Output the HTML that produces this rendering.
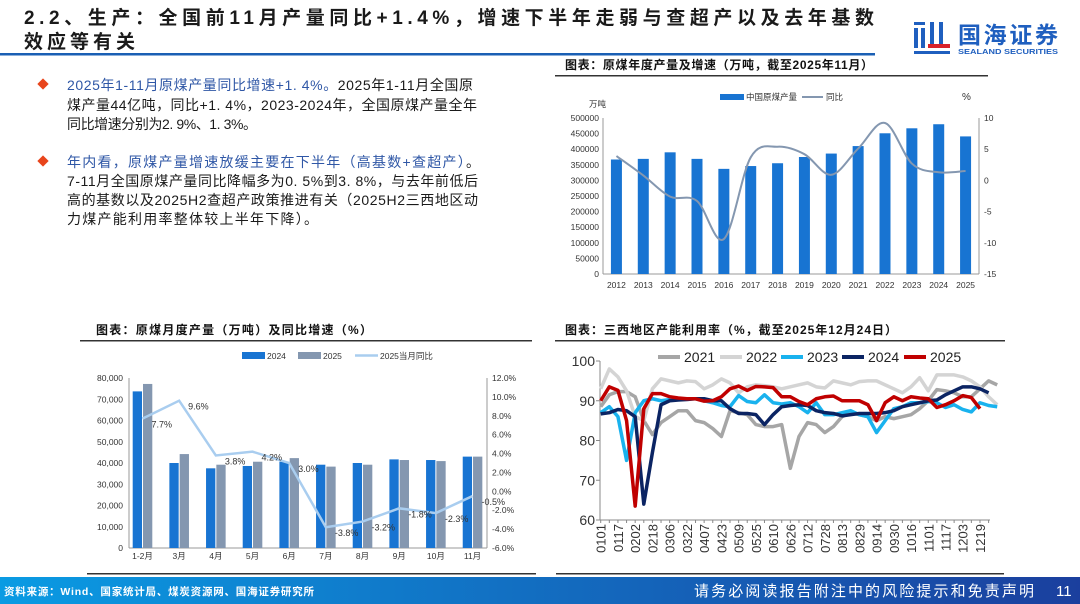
<!DOCTYPE html>
<html><head><meta charset="utf-8"><style>
html,body{margin:0;padding:0;background:#fff;}
svg{display:block;font-family:"Liberation Sans","Noto Sans CJK SC",sans-serif;}
</style></head><body>
<svg id="s" width="1080" height="604" viewBox="0 0 1080 604" xmlns="http://www.w3.org/2000/svg">
<g font-family="'Liberation Sans','Noto Sans CJK SC',sans-serif" font-weight="bold" font-size="19" fill="#1a1a1a">
<text x="24" y="24" textLength="850" lengthAdjust="spacing">2.2、生产：全国前11月产量同比+1.4%，增速下半年走弱与查超产以及去年基数</text>
<text x="24" y="48" textLength="111" lengthAdjust="spacing">效应等有关</text>
</g>
<rect x="0" y="53" width="875" height="2.5" fill="#1a5fb4"/>
<g>
<rect x="914" y="22" width="11" height="3" fill="#1f5fbf"/><rect x="914" y="28" width="4" height="20" fill="#1f5fbf"/><rect x="921" y="28" width="4" height="20" fill="#1f5fbf"/>
<rect x="930" y="22" width="4" height="22" fill="#1f5fbf"/><rect x="939" y="22" width="4" height="22" fill="#1f5fbf"/>
<rect x="928" y="44" width="22" height="4" fill="#d9222a"/><rect x="914" y="51" width="36" height="3" fill="#1f5fbf"/>
<text x="958" y="43" font-size="23" font-weight="bold" fill="#1f5fbf" textLength="100" lengthAdjust="spacing">国海证券</text>
<text x="958" y="54" font-size="7" font-weight="bold" fill="#1f5fbf" textLength="100" lengthAdjust="spacingAndGlyphs">SEALAND SECURITIES</text>
</g>
<g font-size="14" fill="#1a1a1a">
<rect x="39" y="80" width="8" height="8" fill="#e8451c" transform="rotate(45 43 84)"/>
<text x="67" y="90" textLength="406" lengthAdjust="spacing"><tspan fill="#2f57a6">2025年1-11月原煤产量同比增速+1. 4%。</tspan>2025年1-11月全国原</text>
<text x="67" y="110" textLength="410" lengthAdjust="spacing">煤产量44亿吨，同比+1. 4%，2023-2024年，全国原煤产量全年</text>
<text x="67" y="129" textLength="190" lengthAdjust="spacing">同比增速分别为2. 9%、1. 3%。</text>
<rect x="39" y="157" width="8" height="8" fill="#e8451c" transform="rotate(45 43 161)"/>
<text x="67" y="167" textLength="413" lengthAdjust="spacing"><tspan fill="#2f57a6">年内看，原煤产量增速放缓主要在下半年（高基数+查超产）</tspan>。</text>
<text x="67" y="186" textLength="411" lengthAdjust="spacing">7-11月全国原煤产量同比降幅多为0. 5%到3. 8%，与去年前低后</text>
<text x="67" y="205" textLength="411" lengthAdjust="spacing">高的基数以及2025H2查超产政策推进有关（2025H2三西地区动</text>
<text x="67" y="224" textLength="251" lengthAdjust="spacing">力煤产能利用率整体较上半年下降）。</text>
</g>
<g font-size="12" font-weight="bold" fill="#111">
<text x="565" y="69" textLength="308" lengthAdjust="spacing">图表：原煤年度产量及增速（万吨，截至2025年11月）</text>
<rect x="555" y="75" width="433" height="1.5" fill="#333"/>
<text x="96" y="334" textLength="276" lengthAdjust="spacing">图表：原煤月度产量（万吨）及同比增速（%）</text>
<rect x="80" y="340" width="452" height="1.5" fill="#333"/>
<text x="565" y="334" textLength="332" lengthAdjust="spacing">图表：三西地区产能利用率（%，截至2025年12月24日）</text>
<rect x="555" y="340" width="450" height="1.5" fill="#333"/>
<rect x="87" y="573" width="449" height="1.5" fill="#333"/>
<rect x="556" y="573" width="448" height="1.5" fill="#333"/>
</g>
<defs><linearGradient id="fg" x1="0" x2="1" y1="0" y2="0"><stop offset="0" stop-color="#0a9be3"/><stop offset="1" stop-color="#1b3f9e"/></linearGradient></defs>
<rect x="0" y="577" width="1080" height="27" fill="url(#fg)"/>
<text x="4" y="595" font-size="10.5" font-weight="bold" fill="#fff" textLength="310" lengthAdjust="spacing">资料来源：Wind、国家统计局、煤炭资源网、国海证券研究所</text>
<text x="694" y="596" font-size="15" fill="#fff" textLength="340" lengthAdjust="spacing">请务必阅读报告附注中的风险提示和免责声明</text>
<text x="1056" y="596" font-size="15" fill="#fff">11</text>
<g id="c1"></g>
<g id="c2"></g>
<g id="c3"></g>
</svg>
<script>
const NS='http://www.w3.org/2000/svg';
function mk(p,tag,at,txt){const e=document.createElementNS(NS,tag);for(const k in at)e.setAttribute(k,at[k]);if(txt!==undefined)e.textContent=txt;p.appendChild(e);return e;}
function smooth(pts){let d='M'+pts[0][0]+','+pts[0][1];for(let i=0;i<pts.length-1;i++){const p0=pts[i-1]||pts[i],p1=pts[i],p2=pts[i+1],p3=pts[i+2]||p2;d+=' C'+(p1[0]+(p2[0]-p0[0])/6)+','+(p1[1]+(p2[1]-p0[1])/6)+' '+(p2[0]-(p3[0]-p1[0])/6)+','+(p2[1]-(p3[1]-p1[1])/6)+' '+p2[0]+','+p2[1];}return d;}

// ---- Chart 1 data ----
const years=['2012','2013','2014','2015','2016','2017','2018','2019','2020','2021','2022','2023','2024','2025'];
const annualOutput=[367000,369000,390000,369000,337000,346000,355000,375000,386000,410000,451000,467000,480000,441000];
const annualYoy=[3.9,0.8,-2.6,-3.3,-9.4,3.7,5.4,4.2,0.9,5.1,9.2,2.7,1.3,1.5];
const c1LeftTicks=[0,50000,100000,150000,200000,250000,300000,350000,400000,450000,500000];
const c1RightTicks=[-15,-10,-5,0,5,10];

// ---- Chart 2 data ----
const months=['1-2月','3月','4月','5月','6月','7月','8月','9月','10月','11月'];
const out2024=[73700,40000,37500,38600,40600,39200,40000,41700,41400,43000];
const out2025=[77200,44200,39200,40600,42300,38300,39200,41400,40900,43000];
const yoy2025=[7.7,9.6,3.8,4.2,3.0,-3.8,-3.2,-1.8,-2.3,-0.5];
const c2LeftTicks=[0,10000,20000,30000,40000,50000,60000,70000,80000];
const c2RightTicks=[-6,-4,-2,0,2,4,6,8,10,12];

// ---- Chart 3 data ----
const dateLabels=['0101','0117','0202','0218','0306','0322','0407','0423','0509','0525','0610','0626','0712','0728','0813','0829','0914','0930','1016','1101','1117','1203','1219'];
const util2021=[88.5,91.5,92.3,92.3,91,85,81.5,84.5,86,87.5,87.5,85,84.5,83,81,87.5,87,86.5,84,83.5,83.5,84,73,81,84.5,84,82,83.5,86,87,86.5,86,85,86,85.5,86,86.5,88,90,92.8,92.5,92,91,91,93,95,94];
const util2022=[93,98,96,92.5,86,85,93,95.5,95,94.5,95,94.8,93,94,95.5,94.5,92,93.5,94,93.8,93.5,93,93.5,94,94.5,93.5,93.2,95,94.5,94,94.8,95,95,94,93,92,93.5,95.8,92.5,96.5,96.5,96.5,96,95,93.5,91,89];
const util2023=[87,88.5,86,75,87,90,90.5,90,90.3,90.5,90.5,90.5,90,89.5,88.8,88.5,91.3,89.8,89.5,91.5,89.5,89.2,89.5,88.5,87,89.5,86.5,86.5,87,87.5,86.5,86,82,85,88,88.5,89.5,89.5,89.8,89.5,88.3,89,87.8,87.2,89.5,88.8,88.5];
const util2024=[86.7,87,87.8,87.5,86,64,77,89,90,90.2,90.3,90.5,90.5,90,90,88,86.8,86.8,86.5,84,86.5,88.5,88.8,89,88.8,87.5,87,86.8,86.2,86.5,86.8,86.8,86.8,87,87.5,88.5,89,89.5,90,90.2,91.5,92.5,93.5,93.5,93,92];
const util2025=[90,93.5,92.6,85,63.5,88,91.8,91.8,91,90.7,90.5,90.5,89.9,90,91,93,93.7,92.6,93.6,93.5,93.3,91,91,89.8,89,90.5,91,91.2,90,90,90,89,85,89.5,91,90,91,90.7,90.5,88.3,89,90,91.3,90.8,88];
const c3Ticks=[60,70,80,90,100];
const c3Series=[['2021','#a6a6a6',util2021],['2022','#d4d4d4',util2022],['2023','#19b2ee',util2023],['2024','#0b2463',util2024],['2025','#c00000',util2025]];

// ===== Chart 1 =====
(function(){
const g=document.getElementById('c1');
const L=603,R=979,T=118,B=274;
const y=v=>B-(v/500000)*(B-T);
const yr=v=>B-((v+15)/25)*(B-T);
const bw=(R-L)/years.length;
const cx=i=>L+bw*(i+0.5);
mk(g,'line',{x1:L,y1:T,x2:L,y2:B,stroke:'#999','stroke-width':1});
mk(g,'line',{x1:R,y1:T,x2:R,y2:B,stroke:'#999','stroke-width':1});
mk(g,'line',{x1:L,y1:B,x2:R,y2:B,stroke:'#999','stroke-width':1});
c1LeftTicks.forEach(v=>{const t=mk(g,'text',{x:L-4,y:y(v)+3,'font-size':8.5,'text-anchor':'end',fill:'#333'},String(v));

});
c1RightTicks.forEach(v=>{const t=mk(g,'text',{x:R+5,y:yr(v)+3,'font-size':8.5,fill:'#333'},String(v));

});
annualOutput.forEach((v,i)=>{const b=mk(g,'rect',{x:cx(i)-5.5,y:y(v),width:11,height:B-y(v),fill:'#1874d2'});


const t=mk(g,'text',{x:cx(i),y:B+14,'font-size':8.5,'text-anchor':'middle',fill:'#333'},years[i]);

});
const ln=mk(g,'path',{d:smooth(annualYoy.map((v,i)=>[cx(i),yr(v)])),fill:'none',stroke:'#8497b0','stroke-width':2});


mk(g,'text',{x:589,y:107,'font-size':8.5,fill:'#333'},'万吨');
mk(g,'text',{x:962,y:100,'font-size':10,fill:'#333'},'%');
const lg=mk(g,'g',{});


mk(lg,'rect',{x:720,y:94,width:24,height:6,fill:'#1874d2'});
mk(lg,'text',{x:746,y:100,'font-size':8.5,fill:'#333'},'中国原煤产量');
mk(lg,'line',{x1:802,y1:97,x2:823,y2:97,stroke:'#8497b0','stroke-width':2});
mk(lg,'text',{x:826,y:100,'font-size':8.5,fill:'#333'},'同比');
})();

// ===== Chart 2 =====
(function(){
const g=document.getElementById('c2');
const L=129,R=487,T=378,B=548;
const y=v=>B-(v/80000)*(B-T);
const yr=v=>B-((v+6)/18)*(B-T);
const cx=i=>142.5+36.67*i;
mk(g,'line',{x1:L,y1:T,x2:L,y2:B,stroke:'#999'});
mk(g,'line',{x1:R,y1:T,x2:R,y2:B,stroke:'#999'});
mk(g,'line',{x1:L,y1:B,x2:R,y2:B,stroke:'#999'});
c2LeftTicks.forEach(v=>{const t=mk(g,'text',{x:L-6,y:y(v)+3,'font-size':8.5,'text-anchor':'end',fill:'#333'},v.toLocaleString('en-US'));

});
c2RightTicks.forEach(v=>{const t=mk(g,'text',{x:R+5,y:yr(v)+3,'font-size':8.5,fill:'#333'},v.toFixed(1)+'%');

});
months.forEach((m,i)=>{
const a=mk(g,'rect',{x:cx(i)-9.8,y:y(out2024[i]),width:9.3,height:B-y(out2024[i]),fill:'#1874d2'});


const b=mk(g,'rect',{x:cx(i)+0.5,y:y(out2025[i]),width:9.3,height:B-y(out2025[i]),fill:'#8497b0'});


const t=mk(g,'text',{x:cx(i),y:B+11,'font-size':8.5,'text-anchor':'middle',fill:'#333'},m);

});
const ln=mk(g,'polyline',{points:yoy2025.map((v,i)=>cx(i)+','+yr(v)).join(' '),fill:'none',stroke:'#a9cdef','stroke-width':2.5});


yoy2025.forEach((v,i)=>{const t=mk(g,'text',{x:cx(i)+9,y:yr(v)+9,'font-size':9,fill:'#333'},v.toFixed(1)+'%');

});
const lg=mk(g,'g',{});


mk(lg,'rect',{x:242,y:352,width:23,height:7,fill:'#1874d2'});
mk(lg,'text',{x:267,y:359,'font-size':8.5,fill:'#333'},'2024');
mk(lg,'rect',{x:298,y:352,width:23,height:7,fill:'#8497b0'});
mk(lg,'text',{x:323,y:359,'font-size':8.5,fill:'#333'},'2025');
mk(lg,'line',{x1:355,y1:355.5,x2:378,y2:355.5,stroke:'#a9cdef','stroke-width':2.5});
mk(lg,'text',{x:380,y:359,'font-size':8.5,fill:'#333'},'2025当月同比');
})();

// ===== Chart 3 =====
(function(){
const g=document.getElementById('c3');
const L=600,R=990,T=361,B=520;
const y=v=>B-((v-60)/40)*(B-T);
const step=8.62;
const x=i=>600.7+step*i;
mk(g,'line',{x1:L,y1:T,x2:L,y2:B,stroke:'#888'});
mk(g,'line',{x1:L,y1:B,x2:R,y2:B,stroke:'#888'});
c3Ticks.forEach(v=>{mk(g,'line',{x1:L-4,y1:y(v),x2:L,y2:y(v),stroke:'#888'});
const t=mk(g,'text',{x:L-5,y:y(v)+5,'font-size':14,'text-anchor':'end',fill:'#333'},String(v));

});
for(let i=0;i<=45;i++)mk(g,'line',{x1:x(i),y1:B,x2:x(i),y2:B+3,stroke:'#888'});
dateLabels.forEach((d,i)=>{const xx=x(i*2);const t=mk(g,'text',{x:xx+5,y:B+4,'font-size':13,'text-anchor':'end',fill:'#333',transform:'rotate(-90 '+(xx+5)+' '+(B+4)+')'},d);

});
c3Series.forEach(s=>{const p=mk(g,'polyline',{points:s[2].map((v,i)=>x(i)+','+y(v)).join(' '),fill:'none',stroke:s[1],'stroke-width':3.5,'stroke-linejoin':'round'});

});
const lg=mk(g,'g',{});


const lx=[658,720,781,842,904];
c3Series.forEach((s,i)=>{mk(lg,'line',{x1:lx[i],y1:357,x2:lx[i]+22,y2:357,stroke:s[1],'stroke-width':4});
mk(lg,'text',{x:lx[i]+26,y:362,'font-size':14,fill:'#222'},s[0]);});
})();
</script>
</body></html>
